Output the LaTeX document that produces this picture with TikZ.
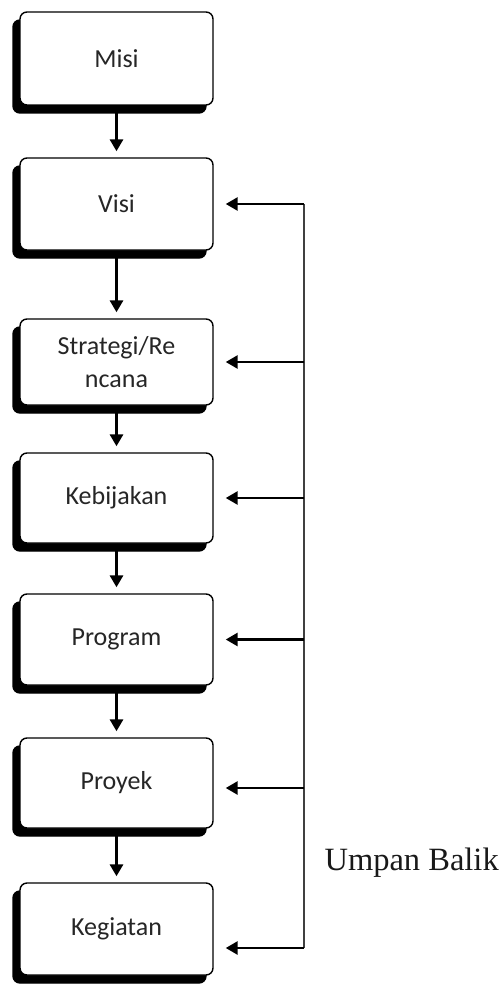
\documentclass[tikz,border=0pt]{standalone}
\usepackage{fontspec}
\setmainfont{Carlito}
\newfontfamily\capfont{Liberation Serif}
\usetikzlibrary{arrows.meta,shadows,calc}

\tikzset{
  langkah/.style={draw=black,line width=1.4pt,fill=white,rounded corners=7pt,
    minimum width=193pt,align=center,text=black!85,
    font=\fontsize{26}{33}\selectfont,
    copy shadow={shadow xshift=-7pt,shadow yshift=-8pt,fill=black,draw=black}},
  turun/.style={line width=3pt,-{Triangle[length=12pt,width=13pt]},shorten >=6pt},
  balik/.style={line width=2.7pt,-{Triangle[length=12pt,width=13pt]},shorten >=12pt},
}

\begin{document}
\begin{tikzpicture}[x=1pt,y=-1pt]
        \useasboundingbox (0,0) rectangle (503,984);
        % kotak
        \node[langkah,minimum height=93pt] (misi) at (116.5,58.5) {Misi};
        \node[langkah,minimum height=92pt] (visi) at (116.5,204) {Visi};
        \node[langkah,minimum height=86pt] (strategi) at (116.5,362) {Strategi/Re\\ncana};
        \node[langkah,minimum height=90pt] (kebijakan) at (116.5,498) {Kebijakan};
        \node[langkah,minimum height=91pt] (program) at (116.5,639.5) {Program};
        \node[langkah,minimum height=90pt] (proyek) at (116.5,783) {Proyek};
        \node[langkah,minimum height=92pt] (kegiatan) at (116.5,929) {Kegiatan};
        \node[anchor=west,font=\capfont\fontsize{32.5}{36}\selectfont,text=black!90] (umpan) at (321,863) {Umpan Balik};
        % alur ke bawah
        \draw[turun] (misi.south) -- (visi.north);
        \draw[turun] (visi.south) -- (strategi.north);
        \draw[turun] (strategi.south) -- (kebijakan.north);
        \draw[turun] (kebijakan.south) -- (program.north);
        \draw[turun] (program.south) -- (proyek.north);
        \draw[turun] (proyek.south) -- (kegiatan.north);
        % umpan balik
        \coordinate (rel) at (304,0);
        \coordinate (ujung) at ($(kegiatan.east)+(0,19)$);
        \draw[line width=2.4pt,black!75] (rel |- visi.east) -- (rel |- ujung);
        \draw[balik] (rel |- visi.east) -- (visi.east);
        \draw[balik] (rel |- strategi.east) -- (strategi.east);
        \draw[balik] (rel |- kebijakan.east) -- (kebijakan.east);
        \draw[balik] (rel |- program.east) -- (program.east);
        \draw[balik] ($(rel |- proyek.east)+(0,5)$) -- ($(proyek.east)+(0,5)$);
        \draw[balik] (rel |- ujung) -- (ujung);
\end{tikzpicture}
\end{document}
